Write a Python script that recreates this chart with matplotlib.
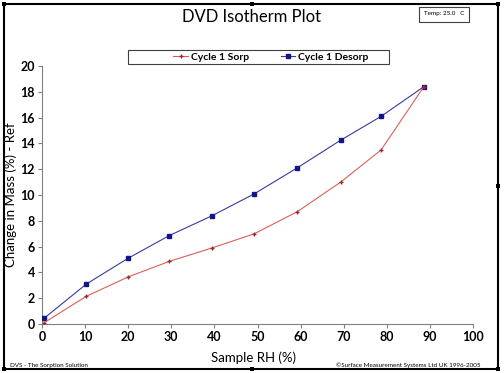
import matplotlib.pyplot as plt
from matplotlib.patches import Rectangle

# Data
rh = [0.5, 10.3, 20.0, 29.5, 39.5, 49.3, 59.2, 69.3, 78.7, 88.6]
sorp = [0.1, 2.15, 3.65, 4.85, 5.9, 7.0, 8.7, 11.0, 13.5, 18.4]
desorp = [0.45, 3.1, 5.1, 6.85, 8.4, 10.1, 12.1, 14.25, 16.1, 18.4]

x_ticks = list(range(0, 101, 10))
y_ticks = list(range(0, 21, 2))

plt.rcParams['font.family'] = ['Lato', 'DejaVu Sans']

fig = plt.figure(figsize=(5.04, 3.73), dpi=100)
ax = fig.add_axes([42 / 504, 49 / 373, 431 / 504, 258 / 373])

ax.plot(rh, desorp, color='#3a3a9e', lw=0.8, marker='s', ms=3.2,
        mfc='#14148a', mec='#14148a', label='Cycle 1 Desorp', zorder=3)
ax.plot(rh, sorp, color='#d9605a', lw=0.8, marker='+', ms=3.5, mew=1.0,
        mec='#a02828', label='Cycle 1 Sorp', zorder=4)

ax.set_xlim(0, 100)
ax.set_ylim(0, 20)
ax.set_xticks(x_ticks)
ax.set_yticks(y_ticks)
ax.tick_params(labelsize=9, length=3, color='#808080', width=0.8, pad=2)
for lbl in ax.get_xticklabels() + ax.get_yticklabels():
    lbl.set_fontweight('bold')
for side in ['top', 'right']:
    ax.spines[side].set_visible(False)
for side in ['left', 'bottom']:
    ax.spines[side].set_color('#808080')

ax.set_xlabel('Sample RH (%)', fontsize=9.5)
ax.xaxis.set_label_coords(0.49, -0.105)
ax.set_ylabel('Change in Mass (%) - Ref', fontsize=9.5)
ax.yaxis.set_label_coords(-0.058, 0.5)

# Legend box, with the entries centred a bit right of the box centre
fig.patches.append(Rectangle((128 / 504, 1 - 64 / 373), 261 / 504, 14 / 373,
                             transform=fig.transFigure, fc='white',
                             ec='#404040', lw=0.8))
handles, labels = ax.get_legend_handles_labels()
leg = fig.legend(handles[::-1], labels[::-1], loc='center',
                 bbox_to_anchor=(271 / 504, 1 - 57 / 373), ncol=2,
                 fontsize=7.5, frameon=False, borderpad=0.1,
                 handlelength=1.4, handletextpad=0.3, columnspacing=3.0)
for t in leg.get_texts():
    t.set_fontweight('bold')

fig.text(0.5, 1 - 17 / 373, 'DVD Isotherm Plot', ha='center', va='center',
         fontsize=12)

# Temperature box
fig.text(424 / 504, 1 - 14 / 373, 'Temp: 25.0   C', ha='left', va='center',
         fontsize=4.5, bbox=dict(boxstyle='square,pad=0.8', fc='white',
                                 ec='#404040', lw=0.8))

fig.text(10 / 504, 1 - 365 / 373, 'DVS - The Sorption Solution',
         ha='left', va='center', fontsize=4.5)
fig.text(480 / 504, 1 - 365 / 373,
         '\u00a9Surface Measurement Systems Ltd UK 1996-2005',
         ha='right', va='center', fontsize=4.5)

# Outer frame with selection handles
fig.patches.append(Rectangle((4 / 504, 4 / 373), 494 / 504, 365 / 373,
                             transform=fig.transFigure, fill=False,
                             ec='black', lw=1.5))
for hx, hy in [(4, 4), (252, 4), (498, 4), (498, 186), (4, 369),
               (252, 369), (498, 369)]:
    fig.patches.append(Rectangle(((hx - 2) / 504, 1 - (hy + 2) / 373),
                                 4 / 504, 4 / 373, transform=fig.transFigure,
                                 fc='black', ec='none'))

fig.savefig('out.png', dpi=100)
